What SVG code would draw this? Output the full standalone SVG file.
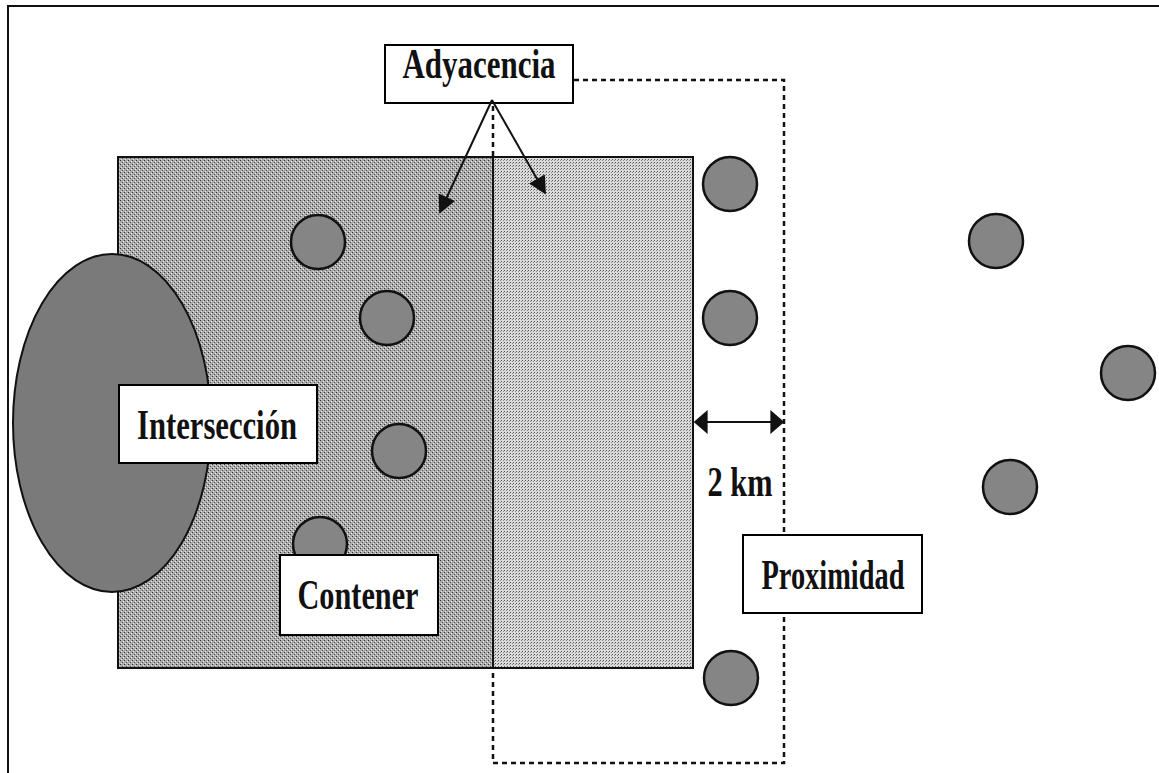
<svg xmlns="http://www.w3.org/2000/svg" width="1159" height="773" viewBox="0 0 1159 773">
<style>
.lbl{fill:#fff;stroke:#000;stroke-width:2}
.txt{font-family:"Liberation Serif","Times New Roman",serif;font-weight:bold;fill:#111;font-size:43px}
.dot{fill:#858585;stroke:#111;stroke-width:2.5}
.con{stroke:#111;stroke-width:2;fill:none}
</style>
<defs>
<pattern id="fine" width="3" height="3" patternUnits="userSpaceOnUse">
<rect width="3" height="3" fill="#dadada"/>
<rect width="1" height="1" fill="#555"/>
<rect x="2" y="1" width="1" height="1" fill="#888"/>
</pattern>
<pattern id="rough" width="4" height="4" patternUnits="userSpaceOnUse">
<rect width="4" height="4" fill="#ababab"/>
<rect width="1" height="1" fill="#333"/>
<rect x="2" y="2" width="1" height="1" fill="#555"/>
<rect x="3" y="1" width="1" height="1" fill="#e6e6e6"/>
<rect x="1" y="3" width="1" height="1" fill="#e6e6e6"/>
</pattern>
<marker id="ah" viewBox="0 0 10 10" refX="9" refY="5" markerWidth="11" markerHeight="9" markerUnits="strokeWidth" orient="auto-start-reverse">
<path d="M0,0 L10,5 L0,10 Z" fill="#111"/>
</marker>
<marker id="ah2" viewBox="0 0 10 10" refX="9" refY="5" markerWidth="7" markerHeight="12" markerUnits="strokeWidth" orient="auto-start-reverse" preserveAspectRatio="none">
<path d="M0,0 L10,5 L0,10 Z" fill="#111"/>
</marker>
</defs>
<rect id="frame" x="8" y="6" width="1200" height="820" fill="#fff" stroke="#111" stroke-width="2"/>
<rect id="buffer" x="493" y="80" width="291" height="683" fill="none" stroke="#111" stroke-width="2.5" stroke-dasharray="5 4"/>
<g id="area">
<rect x="118" y="157" width="375" height="511" fill="url(#rough)" stroke="#111" stroke-width="2"/>
<rect x="493" y="157" width="200" height="511" fill="url(#fine)" stroke="#111" stroke-width="2"/>
</g>
<g id="points">
<circle class="dot" cx="318" cy="242" r="27"/>
<circle class="dot" cx="387" cy="318" r="27"/>
<circle class="dot" cx="399" cy="451" r="27"/>
<circle class="dot" cx="320" cy="544" r="27"/>
<circle class="dot" cx="730" cy="184" r="27"/>
<circle class="dot" cx="730" cy="318" r="27"/>
<circle class="dot" cx="731" cy="678" r="27"/>
<circle class="dot" cx="996" cy="241" r="27"/>
<circle class="dot" cx="1128" cy="373" r="27"/>
<circle class="dot" cx="1010" cy="487" r="27"/>
</g>
<ellipse id="region" cx="112" cy="423" rx="99" ry="169" fill="#7a7a7a" stroke="#111" stroke-width="2"/>
<g id="interseccion">
<rect class="lbl" x="119" y="385" width="198" height="78"/>
<text class="txt" x="217" y="439" text-anchor="middle" textLength="160" lengthAdjust="spacingAndGlyphs">Intersección</text>
</g>
<g id="contener">
<rect class="lbl" x="280" y="555" width="158" height="80"/>
<text class="txt" x="358" y="609" text-anchor="middle" textLength="121" lengthAdjust="spacingAndGlyphs">Contener</text>
</g>
<g id="adyacencia">
<rect class="lbl" x="385" y="45" width="188" height="58"/>
<text class="txt" x="479" y="78" text-anchor="middle" textLength="153" lengthAdjust="spacingAndGlyphs">Adyacencia</text>
</g>
<g id="proximidad">
<rect class="lbl" x="743" y="535" width="179" height="78"/>
<text class="txt" x="833" y="589" text-anchor="middle" textLength="143" lengthAdjust="spacingAndGlyphs">Proximidad</text>
</g>
<g id="dist">
<text class="txt" x="740" y="496" text-anchor="middle" textLength="65" lengthAdjust="spacingAndGlyphs">2 km</text>
</g>
<g id="connectors">
<line class="con" x1="492" y1="100" x2="440" y2="212" marker-end="url(#ah)"/>
<line class="con" x1="492" y1="100" x2="545" y2="193" marker-end="url(#ah)"/>
<line class="con" x1="695" y1="422" x2="783" y2="422" marker-start="url(#ah2)" marker-end="url(#ah2)"/>
</g>
</svg>
